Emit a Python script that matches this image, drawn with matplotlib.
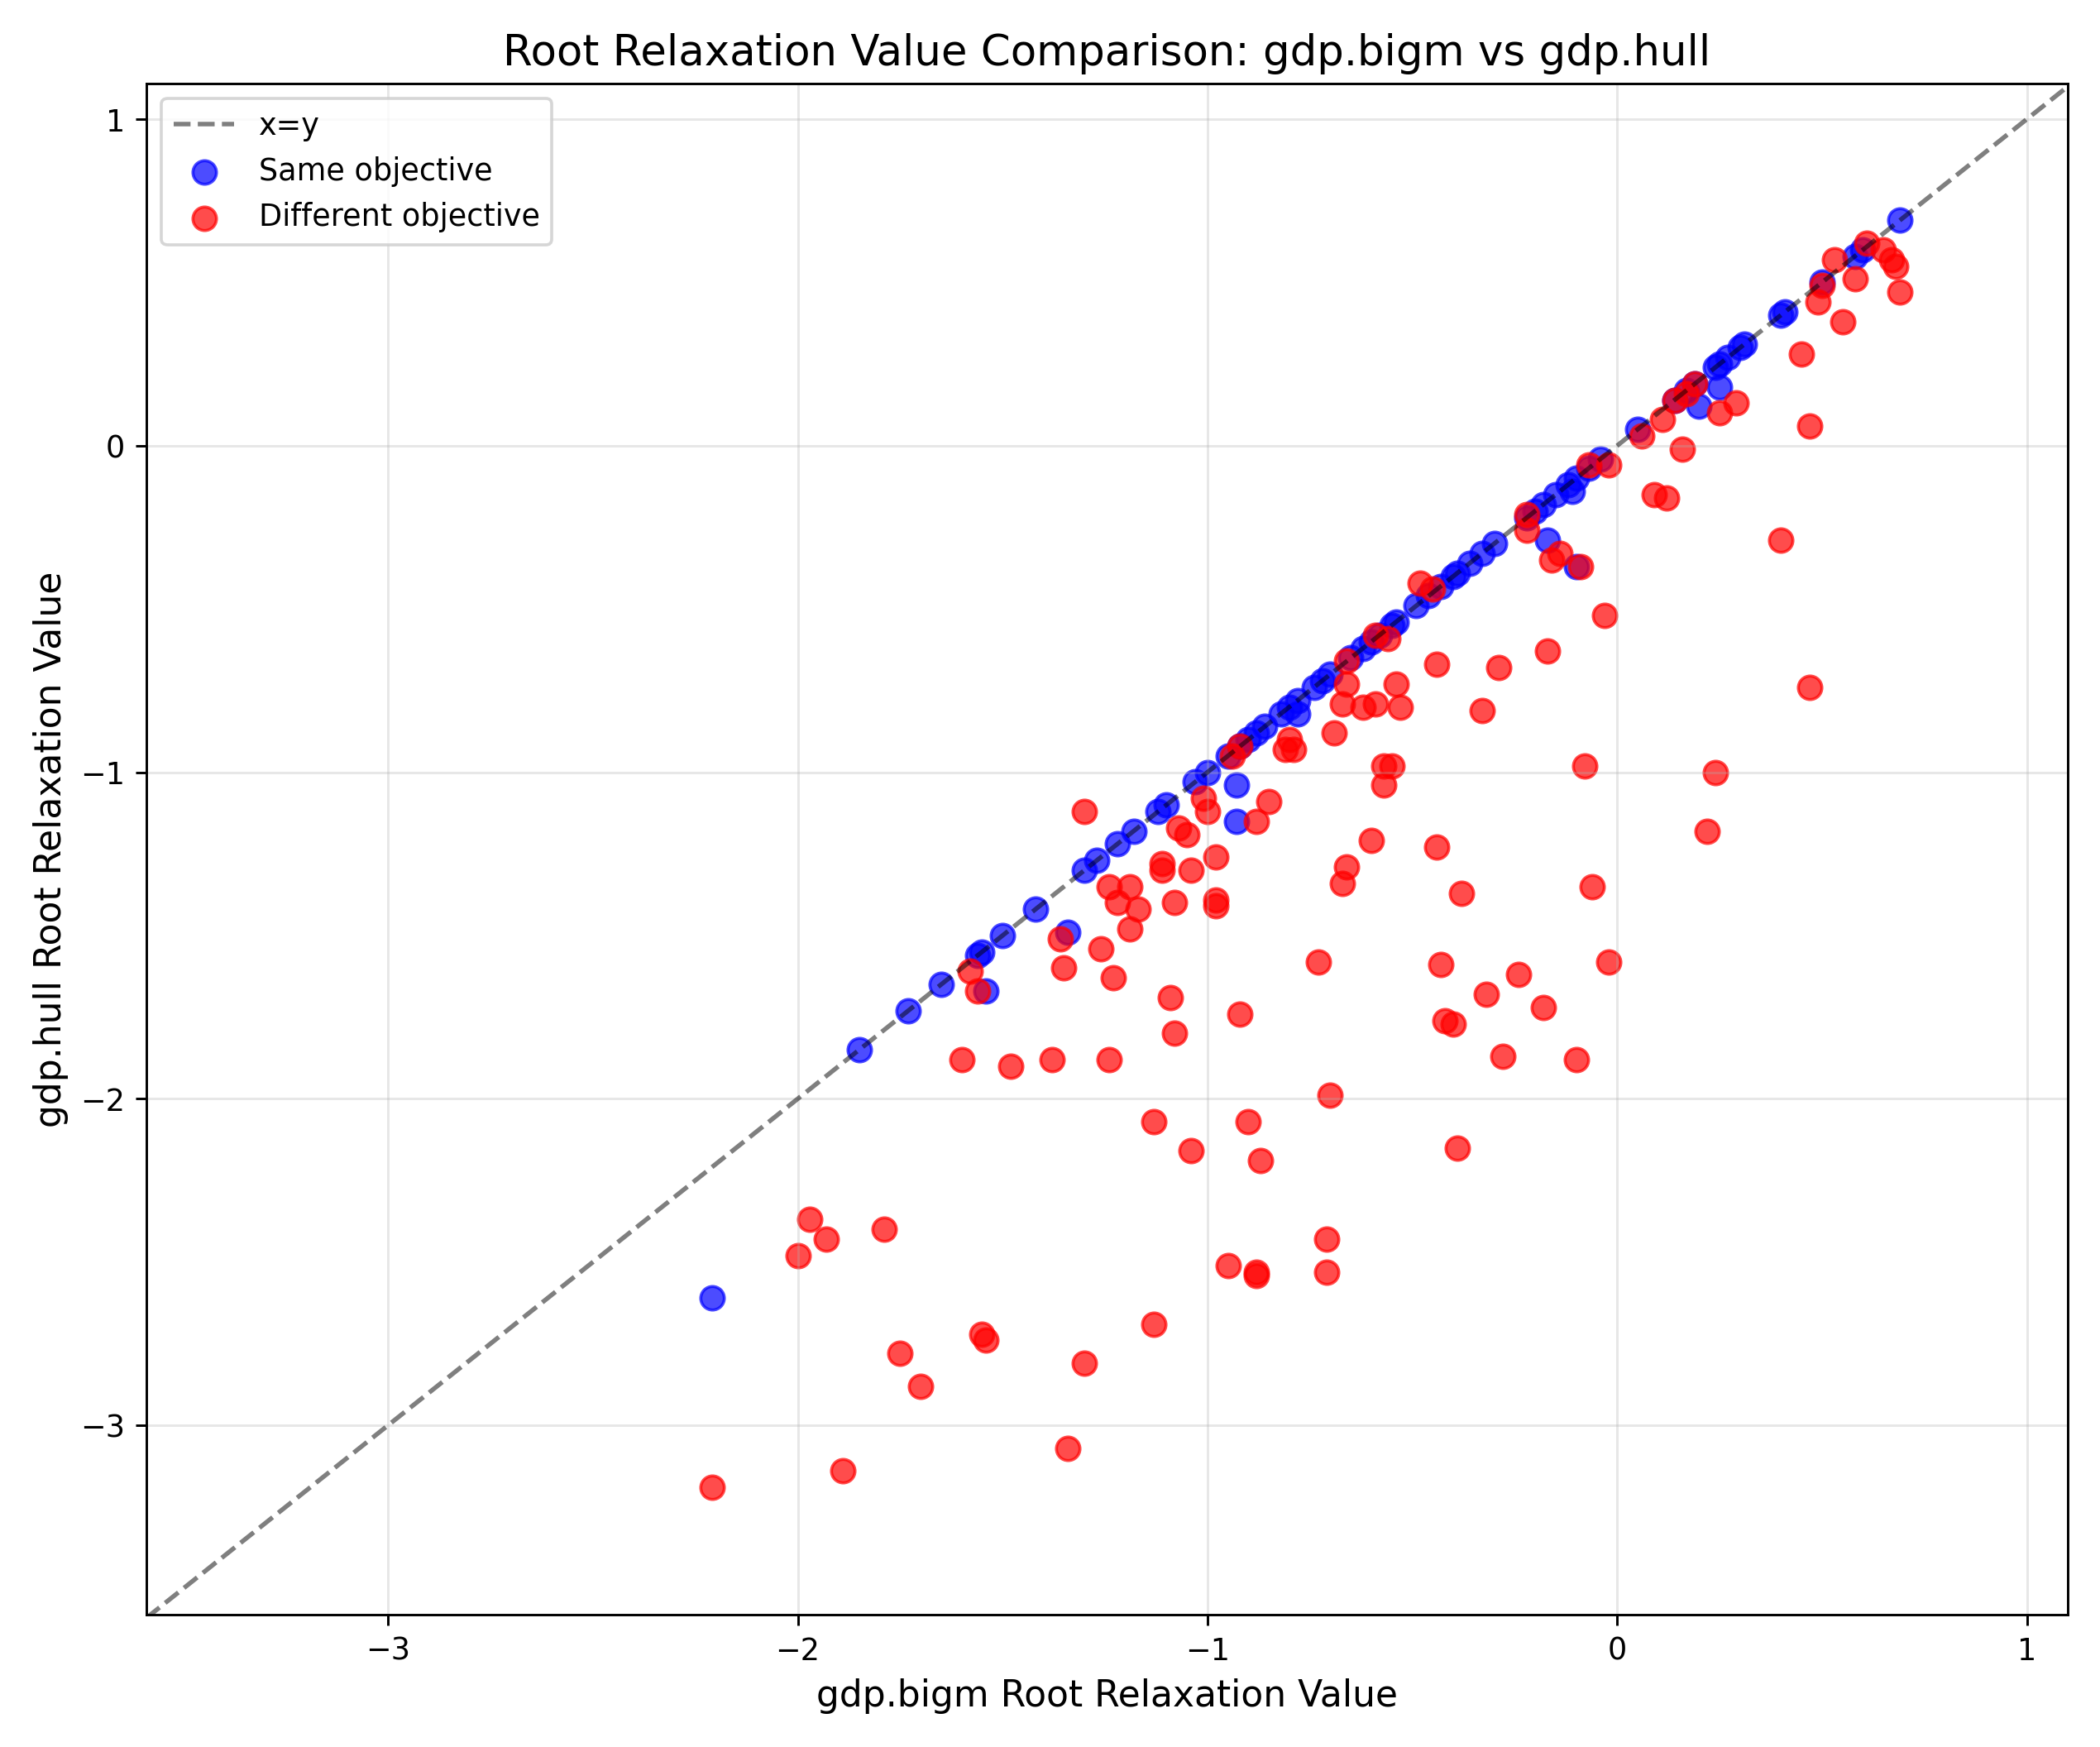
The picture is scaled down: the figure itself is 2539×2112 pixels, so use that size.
import matplotlib.pyplot as plt
import numpy as np

# blue: same objective (mostly on the diagonal)
same_diag = [0.69, 0.6, 0.58, 0.5, 0.41, 0.4, 0.31, 0.3, 0.27, 0.25, 0.24, 0.19, 0.17, 0.14, 0.05,
             -0.04, -0.07, -0.1, -0.12, -0.15, -0.18, -0.2, -0.22, -0.3, -0.33, -0.36, -0.39, -0.4,
             -0.43, -0.46, -0.49, -0.54, -0.55, -0.58, -0.6, -0.62, -0.65, -0.7, -0.72, -0.74, -0.78,
             -0.80, -0.82, -0.86, -0.88, -0.9, -0.92, -0.95, -1.0, -1.03, -1.1, -1.12, -1.18, -1.22,
             -1.27, -1.3, -1.42, -1.5, -1.55, -1.56, -1.65, -1.73, -1.85]
same_off_x = [-0.11, -0.1, -0.17, -0.93, -0.93, 0.2, 0.25, -1.54, -1.34, -2.21, -0.78]
same_off_y = [-0.14, -0.37, -0.29, -1.04, -1.15, 0.12, 0.18, -1.67, -1.49, -2.61, -0.82]
same_x = same_diag + same_off_x
same_y = same_diag + same_off_y

diff_pts = [
    (0.69, 0.47), (0.68, 0.55), (0.67, 0.57), (0.65, 0.6), (0.61, 0.62), (0.58, 0.51), (0.55, 0.38),
    (0.53, 0.57), (0.49, 0.44), (0.5, 0.49), (0.47, 0.06), (0.45, 0.28), (0.47, -0.74), (0.4, -0.29),
    (0.29, 0.13), (0.25, 0.1), (0.24, -1.0), (0.22, -1.18), (0.19, 0.19), (0.17, 0.16), (0.14, 0.14),
    (0.16, -0.01), (0.12, -0.16), (0.09, -0.15), (0.11, 0.08), (0.06, 0.03), (-0.02, -0.06),
    (-0.03, -0.52), (-0.02, -1.58), (-0.06, -1.35), (-0.08, -0.98), (-0.1, -1.88), (-0.07, -0.06),
    (-0.09, -0.37), (-0.14, -0.33), (-0.16, -0.35), (-0.17, -0.63), (-0.18, -1.72), (-0.22, -0.21),
    (-0.22, -0.26), (-0.24, -1.62), (-0.28, -1.87), (-0.29, -0.68), (-0.32, -1.68), (-0.33, -0.81),
    (-0.38, -1.37), (-0.39, -2.15), (-0.4, -1.77), (-0.42, -1.76), (-0.43, -1.59), (-0.44, -0.67),
    (-0.44, -1.23), (-0.45, -0.44), (-0.48, -0.42), (-0.53, -0.8), (-0.54, -0.73), (-0.55, -0.98),
    (-0.57, -0.98), (-0.57, -1.04), (-0.56, -0.59), (-0.59, -0.58), (-0.59, -0.79), (-0.6, -1.21),
    (-0.62, -0.8), (-0.66, -1.29), (-0.67, -1.34), (-0.66, -0.73), (-0.66, -0.66), (-0.67, -0.79),
    (-0.69, -0.88), (-0.7, -1.99), (-0.71, -2.53), (-0.71, -2.43), (-0.73, -1.58), (-0.79, -0.93),
    (-0.8, -0.9), (-0.81, -0.93), (-0.85, -1.09), (-0.87, -2.19), (-0.88, -2.53), (-0.88, -2.54),
    (-0.88, -1.15), (-0.9, -2.07), (-0.92, -1.74), (-0.92, -0.92), (-0.94, -0.95), (-0.95, -2.51),
    (-0.98, -1.39), (-0.98, -1.41), (-0.98, -1.26), (-1.0, -1.12), (-1.01, -1.08), (-1.04, -2.16),
    (-1.04, -1.3), (-1.05, -1.19), (-1.07, -1.17), (-1.08, -1.4), (-1.08, -1.8), (-1.09, -1.69),
    (-1.11, -1.3), (-1.11, -1.28), (-1.13, -2.07), (-1.13, -2.69), (-1.17, -1.42), (-1.19, -1.48),
    (-1.19, -1.35), (-1.22, -1.4), (-1.23, -1.63), (-1.24, -1.88), (-1.24, -1.35), (-1.26, -1.54),
    (-1.3, -1.12), (-1.3, -2.81), (-1.34, -3.07), (-1.35, -1.6), (-1.36, -1.51), (-1.38, -1.88),
    (-1.48, -1.9), (-1.54, -2.74), (-1.55, -2.72), (-1.56, -1.67), (-1.58, -1.61), (-1.6, -1.88),
    (-1.7, -2.88), (-1.75, -2.78), (-1.79, -2.4), (-1.89, -3.14), (-1.93, -2.43), (-1.97, -2.37),
    (-2.0, -2.48), (-2.21, -3.19)]
diff_x = [p[0] for p in diff_pts]
diff_y = [p[1] for p in diff_pts]

lo, hi = -3.59, 1.1

fig, ax = plt.subplots(figsize=(9.62, 8.0), dpi=264)
ax.plot([lo, hi], [lo, hi], '--', color='k', alpha=0.5, linewidth=1.5, label='x=y')
ax.scatter(same_x, same_y, s=60, color='blue', alpha=0.7, label='Same objective')
ax.scatter(diff_x, diff_y, s=60, color='red', alpha=0.7, label='Different objective')
ax.set_xlim(lo, hi)
ax.set_ylim(-3.58, 1.11)
ax.set_xlabel('gdp.bigm Root Relaxation Value', fontsize=12)
ax.set_ylabel('gdp.hull Root Relaxation Value', fontsize=12)
ax.set_title('Root Relaxation Value Comparison: gdp.bigm vs gdp.hull', fontsize=14)
ax.grid(True, alpha=0.3)
ax.legend(loc='upper left')
plt.tight_layout()
plt.savefig('out.png')
